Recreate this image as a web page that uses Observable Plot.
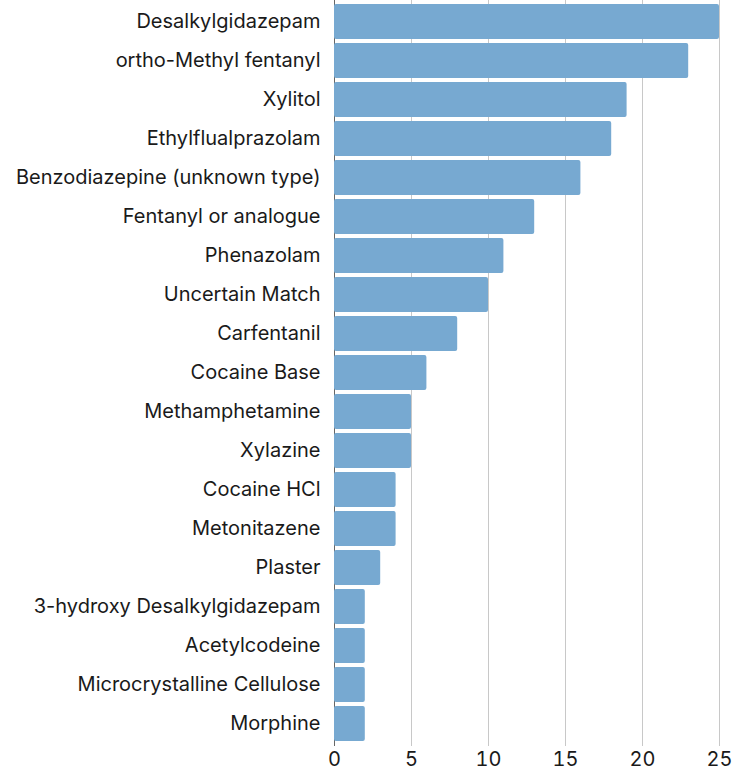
<!DOCTYPE html>
<html><head><meta charset="utf-8">
<script src="https://cdn.jsdelivr.net/npm/d3@7"></script>
<script src="https://cdn.jsdelivr.net/npm/@observablehq/plot@0.6"></script>
<style>body{margin:0;background:#fff}</style>
</head><body><div id="chart"></div>
<script>
const substances = ["Desalkylgidazepam","ortho-Methyl fentanyl","Xylitol","Ethylflualprazolam","Benzodiazepine (unknown type)","Fentanyl or analogue","Phenazolam","Uncertain Match","Carfentanil","Cocaine Base","Methamphetamine","Xylazine","Cocaine HCl","Metonitazene","Plaster","3-hydroxy Desalkylgidazepam","Acetylcodeine","Microcrystalline Cellulose","Morphine"];
const counts = [25,23,19,18,16,13,11,10,8,6,5,5,4,4,3,2,2,2,2];
const xTicks = [0,5,10,15,20,25];
const data = substances.map((s,i)=>({substance:s,count:counts[i]}));
const chart = Plot.plot({
  width: 746, height: 773,
  marginLeft: 334, marginRight: 27, marginTop: 0, marginBottom: 27,
  style: {fontFamily: "Inter, sans-serif", fontSize: "20px", color: "#1a1a1a", background: "#fff"},
  x: {domain: [0,25], ticks: xTicks, label: null, tickSize: 0, tickPadding: 5},
  y: {domain: substances, label: null, tickSize: 0, tickPadding: 14, padding: 0.1},
  marks: [
    Plot.gridX(xTicks.filter(d=>d>0), {stroke: "#c8c8c8", strokeOpacity: 1, strokeWidth: 1}),
    Plot.ruleX([0], {stroke: "#666", strokeWidth: 1}),
    Plot.barX(data, {x: "count", y: "substance", fill: "#77a9d1", rx: 2})
  ]
});
document.getElementById("chart").append(chart);
</script></body></html>
